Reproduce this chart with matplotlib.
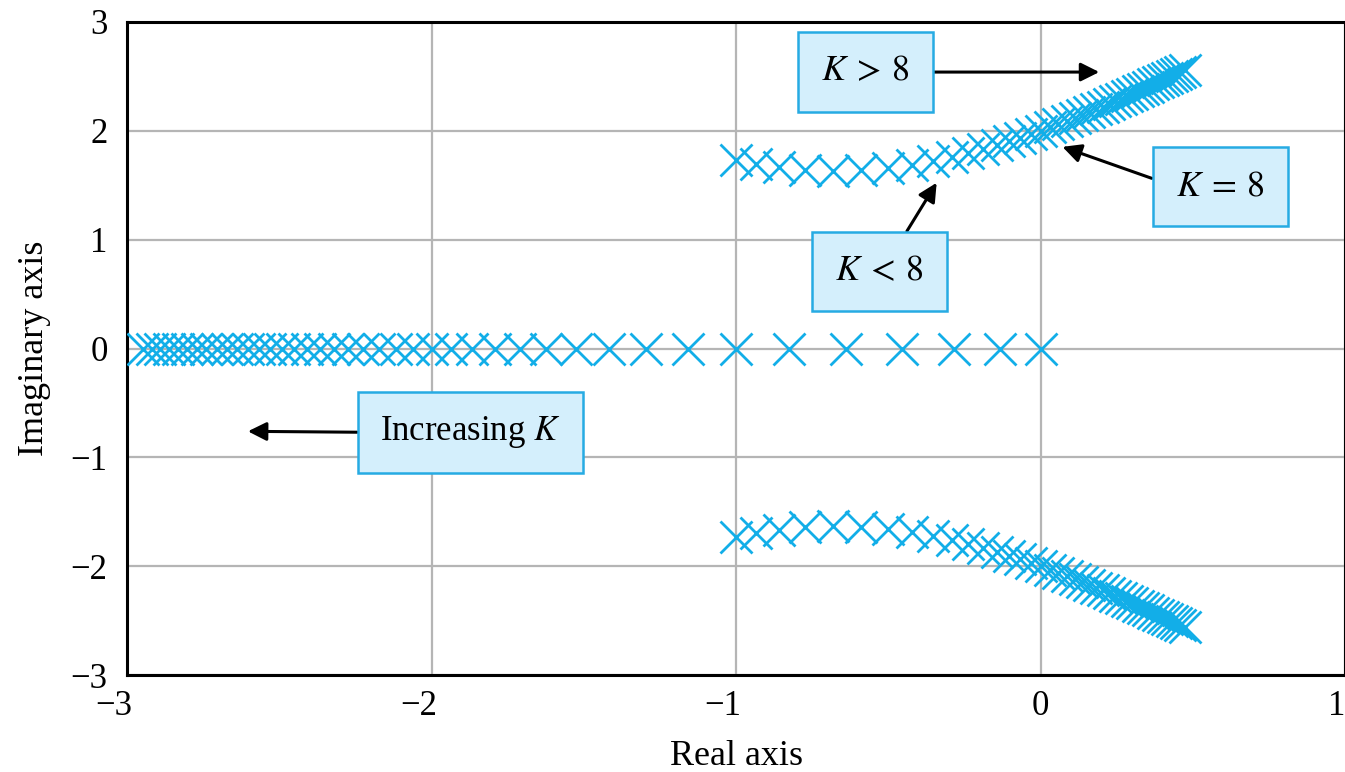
import matplotlib
matplotlib.use('Agg')
import matplotlib.pyplot as plt
import matplotlib.transforms as mtransforms

# root locus points (one point per gain step)
real_re = [0.000, -0.133, -0.285, -0.455, -0.639, -0.825, -1.000, -1.157, -1.296, -1.418,
           -1.526, -1.623, -1.711, -1.792, -1.866, -1.935, -2.000, -2.061, -2.118, -2.172,
           -2.224, -2.273, -2.320, -2.365, -2.408, -2.450, -2.490, -2.529, -2.567, -2.603,
           -2.639, -2.673, -2.706, -2.739, -2.771, -2.802, -2.832, -2.862, -2.890, -2.919,
           -2.946]
real_im = [0.0] * len(real_re)

cplx_re = [-1.000, -0.933, -0.858, -0.773, -0.681, -0.588, -0.500, -0.421, -0.352, -0.291,
           -0.237, -0.188, -0.144, -0.104, -0.067, -0.032, 0.000, 0.030, 0.059, 0.086,
           0.112, 0.136, 0.160, 0.182, 0.204, 0.225, 0.245, 0.265, 0.283, 0.302,
           0.319, 0.337, 0.353, 0.370, 0.385, 0.401, 0.416, 0.431, 0.445, 0.459,
           0.473]
cplx_im = [1.732, 1.697, 1.666, 1.643, 1.633, 1.639, 1.658, 1.687, 1.721, 1.758,
           1.795, 1.831, 1.867, 1.902, 1.936, 1.968, 2.000, 2.031, 2.061, 2.090,
           2.118, 2.145, 2.172, 2.198, 2.223, 2.248, 2.272, 2.295, 2.318, 2.341,
           2.363, 2.385, 2.406, 2.426, 2.447, 2.467, 2.487, 2.506, 2.525, 2.544,
           2.562]

x_ticks = [-3, -2, -1, 0, 1]
y_ticks = [-3, -2, -1, 0, 1, 2, 3]

cyan = '#12aee8'
box_fill = '#d4effc'
box_edge = '#26abe3'

plt.rcParams['font.family'] = ['Liberation Serif', 'DejaVu Serif']
plt.rcParams['mathtext.fontset'] = 'stix'

fig = plt.figure(figsize=(13.45, 7.72), dpi=100)
ax = fig.add_axes([127 / 1345, 97 / 772, 1218 / 1345, 653 / 772])

mk = dict(ls='none', marker='x', ms=23, mew=2.0, color=cyan, zorder=3)
ax.plot(real_re, real_im, **mk)
ax.plot(cplx_re, cplx_im, **mk)
ax.plot(cplx_re, [-v for v in cplx_im], **mk)

def lab(t):
    return '\u2212%d' % abs(t) if t < 0 else str(t)

ax.set_xlim(-3, 1)
ax.set_ylim(-3, 3)
ax.set_xticks(x_ticks)
ax.set_yticks(y_ticks)
ax.set_xticklabels([lab(t) for t in x_ticks])
ax.set_yticklabels([lab(t) for t in y_ticks])
ax.tick_params(length=0, labelsize=25)
ax.tick_params(axis='x', pad=11)
ax.tick_params(axis='y', pad=14)

# minus sign hangs to the left of the tick, digit sits on the tick
shift = mtransforms.ScaledTranslation(-13 / 100, 0, fig.dpi_scale_trans)
for t, tl in zip(x_ticks, ax.get_xticklabels()):
    if t < 0:
        tl.set_transform(tl.get_transform() + shift)
    if t == 1:
        tl.set_ha('right')

ax.grid(True, color='#b5b5b5', lw=1.6, zorder=0)
ax.set_axisbelow(True)
for s in ax.spines.values():
    s.set_linewidth(2.2)
    s.set_color('black')

ax.set_xlabel('Real axis', fontsize=26, labelpad=12)
ax.set_ylabel('Imaginary axis', fontsize=26, labelpad=14)

bbox = dict(boxstyle='square,pad=0.64', fc=box_fill, ec=box_edge, lw=1.8)
arrow = dict(arrowstyle='-|>', color='black', lw=2.2, mutation_scale=28, shrinkA=0, shrinkB=0)
fs = 26

ax.annotate(r'$K\:>\:8$', xy=(0.193, 2.54), xytext=(-0.574, 2.54), fontsize=fs,
            ha='center', va='center', bbox=bbox,
            arrowprops=dict(arrow, relpos=(1.0, 0.5)), zorder=5)
ax.annotate(r'$K\:=\:8$', xy=(0.072, 1.853), xytext=(0.590, 1.486), fontsize=fs,
            ha='center', va='center', bbox=bbox,
            arrowprops=dict(arrow, relpos=(0.0, 0.5)), zorder=5)
ax.annotate(r'$K\:<\:8$', xy=(-0.341, 1.523), xytext=(-0.528, 0.706), fontsize=fs,
            ha='center', va='center', bbox=bbox,
            arrowprops=dict(arrow, relpos=(0.64, 1.0)), zorder=5)
ax.annotate(r'Increasing $K$', xy=(-2.603, -0.761), xytext=(-1.872, -0.771), fontsize=25,
            ha='center', va='center', bbox=bbox,
            arrowprops=dict(arrow, relpos=(0.0, 0.5)), zorder=5)

fig.savefig('out.png', dpi=100)
